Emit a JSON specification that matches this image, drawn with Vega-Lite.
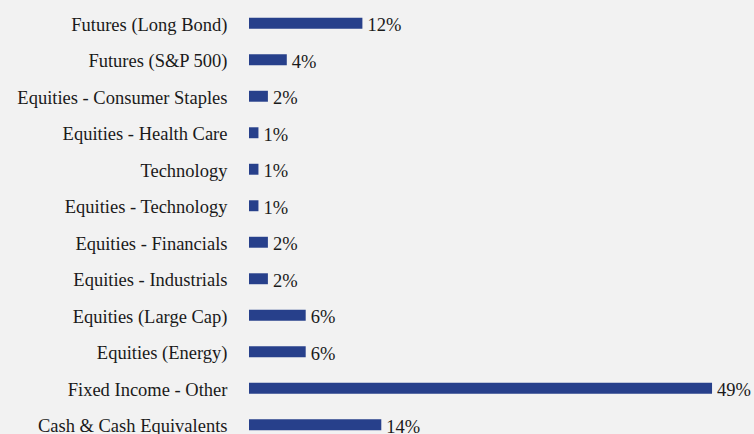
{
  "$schema": "https://vega.github.io/schema/vega-lite/v6.json",
  "autosize": "none",
  "width": 505,
  "height": 438,
  "padding": {"left": 249, "top": 5, "right": 0, "bottom": 0},
  "background": "#f2f2f2",
  "config": {"view": {"stroke": null}, "font": "Liberation Serif"},
  "data": {"values": [
    {"category": "Futures (Long Bond)", "value": 0.12},
    {"category": "Futures (S&P 500)", "value": 0.04},
    {"category": "Equities - Consumer Staples", "value": 0.02},
    {"category": "Equities - Health Care", "value": 0.01},
    {"category": "Technology", "value": 0.01},
    {"category": "Equities - Technology", "value": 0.01},
    {"category": "Equities - Financials", "value": 0.02},
    {"category": "Equities - Industrials", "value": 0.02},
    {"category": "Equities (Large Cap)", "value": 0.06},
    {"category": "Equities (Energy)", "value": 0.06},
    {"category": "Fixed Income - Other", "value": 0.49},
    {"category": "Cash & Cash Equivalents", "value": 0.14}
  ]},
  "encoding": {
    "y": {"field": "category", "type": "nominal", "sort": null,
      "scale": {"paddingInner": 0.7, "paddingOuter": 0.35},
      "axis": {"title": null, "domain": false, "ticks": false, "labelPadding": 22, "labelOffset": 1.5,
        "labelFont": "Liberation Serif", "labelFontSize": 18.5, "labelColor": "#1a1a1a", "labelLimit": 300}},
    "x": {"field": "value", "type": "quantitative", "scale": {"domain": [0, 0.5344], "nice": false},
      "axis": null}
  },
  "layer": [
    {"mark": {"type": "bar", "color": "#27408b"}},
    {"mark": {"type": "text", "align": "left", "dx": 5, "baseline": "middle", "dy": 2,
      "font": "Liberation Serif", "fontSize": 18.5, "color": "#1a1a1a"},
     "encoding": {"text": {"field": "value", "type": "quantitative", "format": ".0%"}}}
  ]
}
